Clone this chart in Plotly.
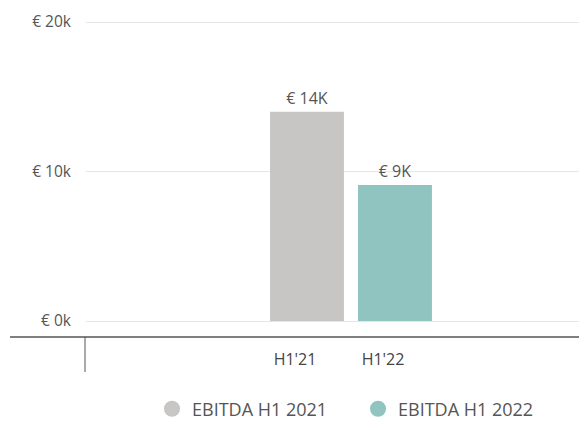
import plotly.graph_objects as go

series_names = ["EBITDA H1 2021", "EBITDA H1 2022"]
categories = ["H1'21", "H1'22"]
values = [14000, 9100]
value_labels = ["€ 14K", "€ 9K"]
colors = ["#c7c6c4", "#8fc4c1"]
y_tick_vals = [0, 10000, 20000]
y_tick_text = ["€ 0k", "€ 10k", "€ 20k"]

bar_x = [0, 1]
label_x = [x - 0.136 for x in bar_x]

fig = go.Figure()
for i in range(2):
    fig.add_trace(go.Bar(
        x=[bar_x[i]], y=[values[i]], width=0.84,
        marker=dict(color=colors[i], line=dict(width=0)),
        text=[value_labels[i]], textposition="outside",
        textfont=dict(size=16, color="#555"),
        cliponaxis=False, showlegend=False, name=series_names[i],
        hoverinfo="skip"))
for i in range(2):
    fig.add_trace(go.Scatter(
        x=[None], y=[None], mode="markers", name=series_names[i],
        marker=dict(symbol="circle", size=16, color=colors[i])))

fig.update_layout(
    width=571, height=414,
    margin=dict(l=78, r=0, t=12, b=99, autoexpand=False),
    paper_bgcolor="white", plot_bgcolor="white",
    font=dict(family="Open Sans", size=15, color="#555"),
    showlegend=True,
    legend=dict(orientation="h", x=0.1339, xanchor="left", y=-0.284, yanchor="middle",
                font=dict(size=18, color="#555"), itemwidth=30, tracegroupgap=0,
                entrywidth=161, entrywidthmode="pixels"),
    xaxis=dict(range=[-2.511, 3.091], tickvals=label_x, ticktext=categories,
               showgrid=False, zeroline=False, showline=False,
               ticks="", ticklabelstandoff=25,
               tickfont=dict(size=16, color="#444")),
    yaxis=dict(range=[-134, 20134], tickvals=y_tick_vals, ticktext=y_tick_text,
               showgrid=True, gridcolor="#e6e6e6", gridwidth=1,
               zeroline=False, showline=False, ticks="", ticklabelstandoff=14,
               tickfont=dict(size=15.5, color="#555")),
    shapes=[
        dict(type="line", xref="paper", yref="paper", x0=-0.1542, x1=1, y0=-0.0462, y1=-0.0462,
             line=dict(color="#555", width=1.5)),
        dict(type="line", xref="paper", yref="paper", x0=-0.002, x1=-0.002, y0=-0.0462, y1=-0.1617,
             line=dict(color="#555", width=1)),
    ],
)

fig.write_html("out.html")
